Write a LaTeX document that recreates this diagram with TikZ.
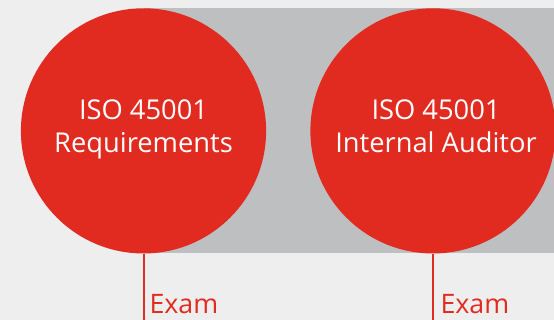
\documentclass[tikz,border=0pt]{standalone}
\usepackage{fontspec}
\setmainfont{Open Sans}
\usetikzlibrary{calc}
\definecolor{brandred}{HTML}{E12B20}
\definecolor{panelgray}{HTML}{BEBFC1}
\definecolor{bggray}{HTML}{EEEEEE}
\begin{document}
\begin{tikzpicture}[x=1pt,y=1pt,
  course/.style={circle, fill=brandred, minimum size=245.2pt, inner sep=0pt},
  coursetext/.style={text=white, font=\fontsize{27.3pt}{32.3pt}\selectfont, align=center, inner sep=0pt, anchor=base},
  examline/.style={draw=brandred, line width=2pt},
  examtext/.style={text=brandred, font=\fontsize{26.8pt}{30pt}\selectfont, inner sep=0pt, anchor=base west}]
\fill[bggray] (0,0) rectangle (554,320);
\useasboundingbox (0,0) rectangle (554,320);
\fill[panelgray] (143.5,66.6) rectangle (554,312.4);
\node[course] (c1) at (143.5,189.1) {};
\node[course] (c2) at (433,189.1) {};
\node[coursetext] (t1) at ($(c1.center)+(0,-21.4)$) {ISO 45001\\Requirements};
\node[coursetext] (t2) at ($(c2.center)+(3,-21.4)$) {ISO 45001\\Internal Auditor};
\coordinate (e1) at (c1.south |- 0,0);
\coordinate (e2) at (c2.south |- 0,0);
\draw[examline] (c1.south) -- (e1);
\draw[examline] (c2.south) -- (e2);
\node[examtext] (x1) at ($(e1)+(5.8,6.7)$) {Exam};
\node[examtext] (x2) at ($(e2)+(7.3,6.7)$) {Exam};
\end{tikzpicture}
\end{document}
